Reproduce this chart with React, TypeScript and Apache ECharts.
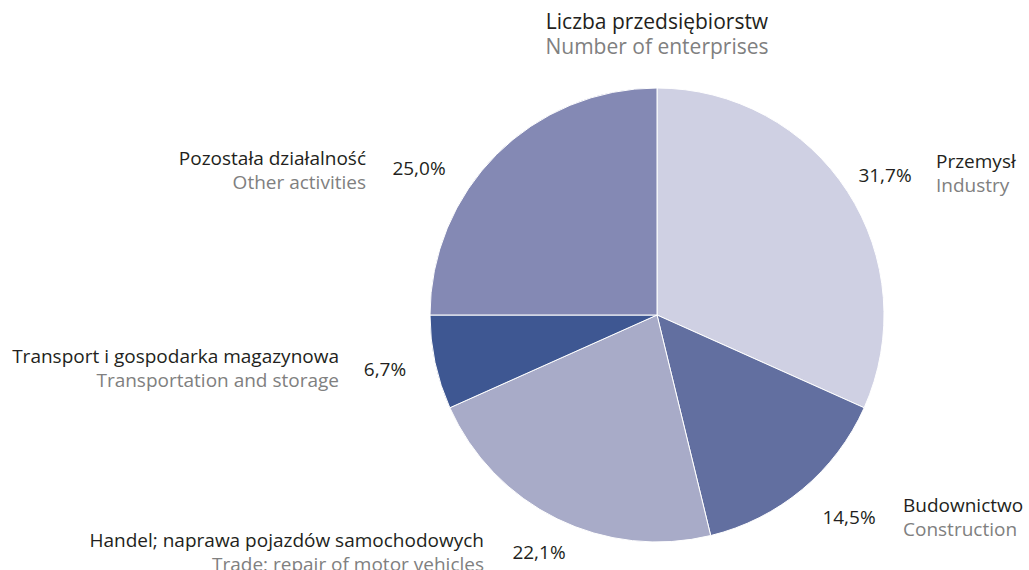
import React, { useEffect, useRef } from "react";
import * as echarts from "echarts";

const titlePL = "Liczba przedsiębiorstw";
const titleEN = "Number of enterprises";
const categoriesPL = [
  "Przemysł",
  "Budownictwo",
  "Handel; naprawa pojazdów samochodowych",
  "Transport i gospodarka magazynowa",
  "Pozostała działalność",
];
const categoriesEN = [
  "Industry",
  "Construction",
  "Trade; repair of motor vehicles",
  "Transportation and storage",
  "Other activities",
];
const shares = [31.7, 14.5, 22.1, 6.7, 25.0];
const colors = ["#cfd0e3", "#626fa0", "#a8abc8", "#3e5792", "#8489b4"];

// label layout (px): name anchor x, align, name top line y; percent center x, y
const nameLayout = [
  { x: 936, align: "left", y: 161 },
  { x: 903, align: "left", y: 505 },
  { x: 484, align: "right", y: 540 },
  { x: 339, align: "right", y: 356 },
  { x: 366, align: "right", y: 158 },
];
const pctLayout = [
  { x: 885, y: 175 },
  { x: 849, y: 517 },
  { x: 539, y: 552 },
  { x: 385, y: 369 },
  { x: 419, y: 168 },
];

const FONT = "'Open Sans', 'Noto Sans', sans-serif";
const LABEL_SIZE = 19;

export default function App() {
  const ref = useRef<HTMLDivElement>(null);
  useEffect(() => {
    document.body.style.margin = "0";
    const chart = echarts.init(ref.current!, null, { renderer: "svg" });
    const graphics: any[] = [
      {
        type: "text",
        x: 657,
        y: 8,
        style: {
          text: `{a|${titlePL}}\n{b|${titleEN}}`,
          fontFamily: FONT,
          fontSize: 21,
          align: "center",
          verticalAlign: "top",
          rich: {
            a: { fontFamily: FONT, fontSize: 21, fill: "#231f20", lineHeight: 25 },
            b: { fontFamily: FONT, fontSize: 21, fill: "#808080", lineHeight: 25 },
          },
        },
      },
    ];
    categoriesPL.forEach((pl, i) => {
      const n = nameLayout[i];
      graphics.push({
        type: "text",
        x: n.x,
        y: n.y,
        style: {
          text: pl,
          fontFamily: FONT,
          fontSize: LABEL_SIZE,
          fill: "#231f20",
          align: n.align,
          verticalAlign: "middle",
        },
      });
      graphics.push({
        type: "text",
        x: n.x,
        y: n.y + 24,
        style: {
          text: categoriesEN[i],
          fontFamily: FONT,
          fontSize: LABEL_SIZE,
          fill: "#808080",
          align: n.align,
          verticalAlign: "middle",
        },
      });
      const p = pctLayout[i];
      graphics.push({
        type: "text",
        x: p.x,
        y: p.y,
        style: {
          text: shares[i].toFixed(1).replace(".", ",") + "%",
          fontFamily: FONT,
          fontSize: LABEL_SIZE,
          fill: "#231f20",
          align: "center",
          verticalAlign: "middle",
        },
      });
    });
    chart.setOption({
      animation: false,
      graphic: graphics,
      series: [
        {
          type: "pie",
          center: [657, 315],
          radius: [0, 227],
          startAngle: 90,
          clockwise: true,
          label: { show: false },
          labelLine: { show: false },
          emphasis: { disabled: true },
          itemStyle: { borderColor: "#ffffff", borderWidth: 1 },
          data: categoriesPL.map((name, i) => ({
            name,
            value: shares[i],
            itemStyle: { color: colors[i] },
          })),
        },
      ],
    });
    return () => chart.dispose();
  }, []);
  return <div ref={ref} style={{ width: 1029, height: 570 }} />;
}
